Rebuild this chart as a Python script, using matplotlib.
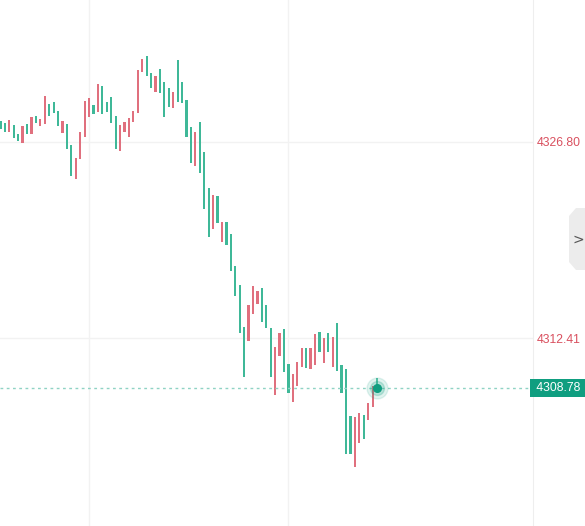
""" Recreate an intraday candlestick chart (thin bars, red up / green down) """

import matplotlib.pyplot as plt
from matplotlib.patches import Polygon, Circle
from matplotlib.transforms import blended_transform_factory

# Candle bodies, oldest first
opens = [4328.31, 4328.17, 4327.51, 4328.02, 4327.36, 4326.70, 4328.09, 4327.36, 4328.68, 4327.95,
         4328.09, 4329.56, 4329.70, 4329.04, 4327.43, 4328.09, 4326.56, 4324.07, 4325.53, 4327.14,
         4328.61, 4329.48, 4328.97, 4330.88, 4329.70, 4330.07, 4328.68, 4326.12, 4327.51, 4327.14,
         4328.24, 4328.90, 4331.90, 4333.07, 4331.83, 4330.44, 4332.12, 4331.17, 4330.73, 4329.26,
         4332.78, 4331.17, 4329.85, 4327.87, 4325.02, 4328.24, 4326.04, 4323.41, 4320.41, 4322.82,
         4319.46, 4320.92, 4320.04, 4317.70, 4316.31, 4313.23, 4312.21, 4314.19, 4314.92, 4316.09,
         4314.84, 4313.16, 4308.26, 4311.11, 4313.09, 4310.53, 4307.74, 4308.91, 4310.31, 4311.70,
         4310.16, 4310.45, 4312.87, 4310.60, 4312.79, 4310.31, 4313.53, 4310.45, 4310.16, 4306.72,
         4302.99, 4304.74, 4306.79, 4306.43, 4307.38, 4308.91]
closes = [4327.73, 4327.51, 4328.39, 4327.07, 4326.85, 4327.95, 4327.36, 4328.61, 4328.17, 4328.46,
          4330.14, 4328.68, 4328.90, 4327.95, 4328.31, 4326.26, 4324.29, 4325.60, 4327.51, 4329.78,
          4330.00, 4328.83, 4331.02, 4328.83, 4328.97, 4328.17, 4326.26, 4328.02, 4328.24, 4328.53,
          4329.04, 4332.05, 4332.85, 4331.61, 4330.73, 4331.61, 4330.36, 4328.61, 4329.34, 4330.44,
          4329.70, 4329.63, 4327.14, 4325.24, 4327.51, 4324.51, 4321.87, 4319.82, 4322.90, 4320.85,
          4320.92, 4319.24, 4317.33, 4315.50, 4312.79, 4309.57, 4314.84, 4316.23, 4315.87, 4313.60,
          4313.16, 4309.57, 4311.77, 4312.79, 4309.94, 4308.40, 4309.79, 4310.67, 4311.70, 4310.23,
          4311.70, 4312.72, 4311.40, 4312.43, 4311.40, 4312.50, 4310.01, 4308.40, 4303.94, 4303.94,
          4306.65, 4306.94, 4305.04, 4307.67, 4308.91, 4308.78]
last_high = 4309.50
last_price = 4308.78
price_ticks = [4312.41, 4326.80]
tick_labels = ["4312.41", "4326.80"]

UP = "#e0707e"
DOWN = "#3fb898"
TEAL = "#0f9e80"

W, H = 585, 526
fig = plt.figure(figsize=(W / 100, H / 100), dpi=100)
ax = fig.add_axes([0, 0, 533 / W, 1])

# Bodies
for i, (o, c) in enumerate(zip(opens, closes)):
  color = UP if c >= o else DOWN
  ax.bar(i, abs(c - o), bottom=min(o, c), width=0.5, color=color, linewidth=0)

# Wick of the live candle
n = len(closes) - 1
ax.vlines(n, closes[-1], last_high, color=DOWN, lw=1.2)

# Current price line and marker
ax.axhline(last_price, color="#8fd3c4", lw=1, ls=(0, (2, 2.5)))
ax.add_patch(Circle((n, last_price), 0.0, color=TEAL))
ax.plot(n, last_price, "o", ms=15, color=TEAL, alpha=0.12, zorder=5)
ax.plot(n, last_price, "o", ms=10, color=TEAL, alpha=0.2, zorder=5)
ax.plot(n, last_price, "o", ms=5.5, color=TEAL, zorder=6)

ax.set_xlim(-0.1, 120.2)
ax.set_ylim(4298.67, 4337.17)

# Grid
ax.set_xticks([20, 65])
ax.set_yticks(price_ticks)
ax.set_yticklabels(tick_labels)
ax.grid(True, color="#f2f2f2", lw=1)
ax.set_axisbelow(True)
ax.yaxis.tick_right()
ax.tick_params(axis="x", length=0, labelbottom=False)
ax.tick_params(axis="y", length=0, pad=3, labelsize=8.8, labelcolor="#d9505f")
for lbl in ax.get_yticklabels():
  lbl.set_fontfamily("Liberation Sans")
for side in ("top", "left", "bottom"):
  ax.spines[side].set_visible(False)
ax.spines["right"].set_color("#eeeeee")

# Last price tag
trans = blended_transform_factory(ax.transAxes, ax.transData)
ax.text(1.0, last_price, f" {last_price:.2f} ", transform=trans, ha="left", va="center",
        fontsize=8.8, family="Liberation Sans", color="white", clip_on=False,
        bbox=dict(boxstyle="square,pad=0.22", fc=TEAL, ec="none"))

# Collapse tab on the right edge
def px(x, y):
  return (x / W, 1 - y / H)

tab = Polygon([px(585, 208), px(576, 208), px(569, 216), px(569, 262), px(576, 270), px(585, 270)],
              closed=True, transform=fig.transFigure, fc="#ececec", ec="none")
fig.patches.append(tab)
fig.text(*px(578, 240), ">", ha="center", va="center", fontsize=10, color="#555555")

fig.savefig("out.png", dpi=100)
